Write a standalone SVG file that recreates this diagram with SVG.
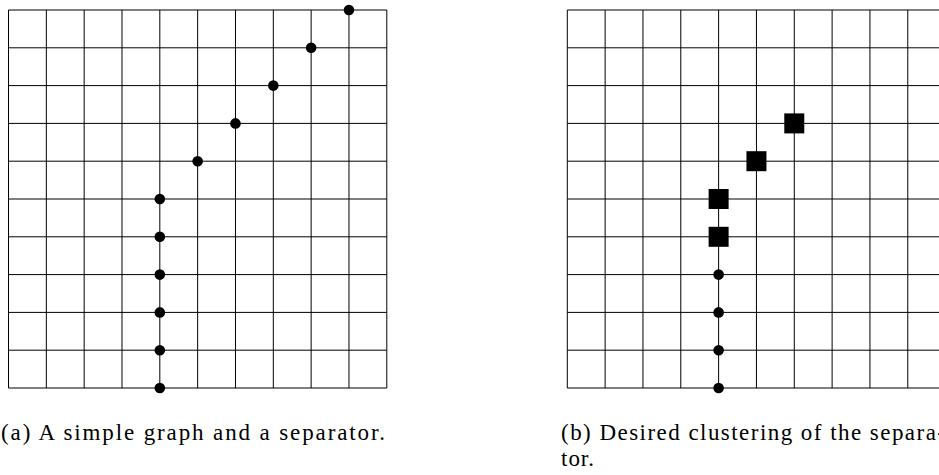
<svg xmlns="http://www.w3.org/2000/svg" xmlns:xlink="http://www.w3.org/1999/xlink" width="939" height="475" viewBox="0 0 939 475">
<style>
.grid{fill:none;stroke:#000;stroke-width:1}
.dot{fill:#000}
.sq{fill:#000}
.cap{font-family:"Liberation Serif","DejaVu Serif",serif;font-size:23px;fill:#000}
</style>
<defs>
<path id="gridpath" d="M0 0V378M37.83 0V378M75.66 0V378M113.49 0V378M151.32 0V378M189.15 0V378M226.98 0V378M264.81 0V378M302.64 0V378M340.47 0V378M378.3 0V378M0 0H378.3M0 37.8H378.3M0 75.6H378.3M0 113.4H378.3M0 151.2H378.3M0 189H378.3M0 226.8H378.3M0 264.6H378.3M0 302.4H378.3M0 340.2H378.3M0 378H378.3"/>
</defs>
<g id="panel-a" transform="translate(8.5,10)">
<g id="connectors-a" class="grid"><use xlink:href="#gridpath"/></g>
<g id="a-n1"><circle class="dot" cx="340.47" cy="0" r="5.3"/></g>
<g id="a-n2"><circle class="dot" cx="302.64" cy="37.8" r="5.3"/></g>
<g id="a-n3"><circle class="dot" cx="264.81" cy="75.6" r="5.3"/></g>
<g id="a-n4"><circle class="dot" cx="226.98" cy="113.4" r="5.3"/></g>
<g id="a-n5"><circle class="dot" cx="189.15" cy="151.2" r="5.3"/></g>
<g id="a-n6"><circle class="dot" cx="151.32" cy="189" r="5.3"/></g>
<g id="a-n7"><circle class="dot" cx="151.32" cy="226.8" r="5.3"/></g>
<g id="a-n8"><circle class="dot" cx="151.32" cy="264.6" r="5.3"/></g>
<g id="a-n9"><circle class="dot" cx="151.32" cy="302.4" r="5.3"/></g>
<g id="a-n10"><circle class="dot" cx="151.32" cy="340.2" r="5.3"/></g>
<g id="a-n11"><circle class="dot" cx="151.32" cy="378" r="5.3"/></g>
</g>
<g id="panel-b" transform="translate(567.3,10)">
<g id="connectors-b" class="grid"><use xlink:href="#gridpath"/></g>
<g id="b-s1"><rect class="sq" x="216.98" y="103.4" width="20" height="20"/></g>
<g id="b-s2"><rect class="sq" x="179.15" y="141.2" width="20" height="20"/></g>
<g id="b-s3"><rect class="sq" x="141.32" y="179" width="20" height="20"/></g>
<g id="b-s4"><rect class="sq" x="141.32" y="216.8" width="20" height="20"/></g>
<g id="b-n1"><circle class="dot" cx="151.32" cy="264.6" r="5.3"/></g>
<g id="b-n2"><circle class="dot" cx="151.32" cy="302.4" r="5.3"/></g>
<g id="b-n3"><circle class="dot" cx="151.32" cy="340.2" r="5.3"/></g>
<g id="b-n4"><circle class="dot" cx="151.32" cy="378" r="5.3"/></g>
</g>
<g id="captions">
<text class="cap" x="1" y="440" textLength="384" lengthAdjust="spacing">(a)  A simple graph and a separator.</text>
<text class="cap" x="561" y="440" textLength="384" lengthAdjust="spacing">(b)  Desired clustering of the separa-</text>
<text class="cap" x="561" y="466" textLength="33" lengthAdjust="spacing">tor.</text>
</g>
</svg>
